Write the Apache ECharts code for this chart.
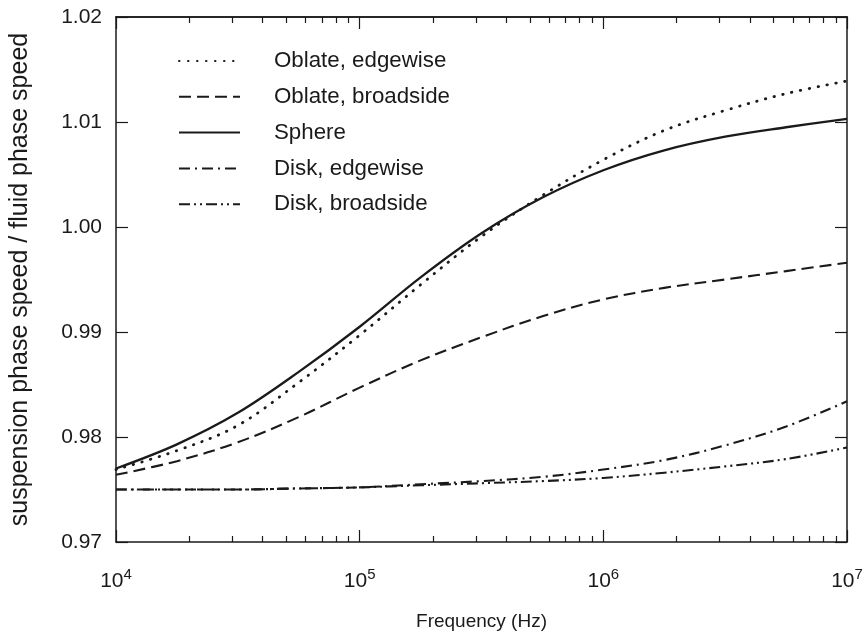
<!DOCTYPE html>
<html>
<head>
<meta charset="utf-8">
<title>Phase speed ratio vs frequency</title>
<script src="https://cdn.jsdelivr.net/npm/echarts@6/dist/echarts.min.js"></script>
<style>
  html, body { margin: 0; padding: 0; background: #ffffff; }
  #chart { width: 868px; height: 639px; }
</style>
</head>
<body>
<div id="chart"></div>
<script>
// Frequency samples, as decimal exponents (Hz = 10^exp)
const freqExp = [4.0, 4.25, 4.5, 4.75, 5.0, 5.25, 5.5, 5.75, 6.0, 6.25, 6.5, 6.75, 7.0];

// Ratio of suspension phase speed to fluid phase speed for each particle shape
const oblateEdgewise  = [0.9769, 0.9787, 0.9811, 0.9852, 0.9897, 0.9945, 0.9991, 1.0030, 1.0064, 1.0092, 1.0111, 1.0127, 1.0139];
const oblateBroadside = [0.9764, 0.9777, 0.9795, 0.9819, 0.9847, 0.9873, 0.9895, 0.9915, 0.9931, 0.9942, 0.9950, 0.9958, 0.9966];
const sphere          = [0.9770, 0.9793, 0.9823, 0.9862, 0.9905, 0.9952, 0.9994, 1.0028, 1.0054, 1.0073, 1.0086, 1.0095, 1.0103];
const diskEdgewise    = [0.9750, 0.9750, 0.9750, 0.9751, 0.9752, 0.9755, 0.9758, 0.9762, 0.9769, 0.9778, 0.9792, 0.9810, 0.9834];
const diskBroadside   = [0.9750, 0.9750, 0.9750, 0.9751, 0.9752, 0.9754, 0.9756, 0.9758, 0.9761, 0.9766, 0.9772, 0.9779, 0.9790];

const seriesNames = ['Oblate, edgewise', 'Oblate, broadside', 'Sphere', 'Disk, edgewise', 'Disk, broadside'];

// Axis decades and the in-between minor tick multipliers
const decadeExp = [4, 5, 6, 7];
const minorMult = [2, 3, 4, 5, 6, 7, 8, 9];

const INK = '#1a1a1a';
const FONT = 'Liberation Sans, Arial, Helvetica, sans-serif';

const freqHz = freqExp.map(e => Math.pow(10, e));
const pairs = vals => freqHz.map((f, i) => [f, vals[i]]);

// minor tick positions in exponent space (log10 of 2..9 x each decade)
const minorExp = [];
decadeExp.slice(0, -1).forEach(d => minorMult.forEach(m => minorExp.push(d + Math.log10(m))));

const dashStyles = [
  [0.5, 8.5],            // dotted (round caps turn the short dashes into dots)
  [12, 6],               // dashed
  'solid',
  [11, 5, 2, 5],         // dash-dot
  [11, 4, 2, 4, 2, 4]    // dash-dot-dot
];
const data = [oblateEdgewise, oblateBroadside, sphere, diskEdgewise, diskBroadside];

const grid = { left: 115, right: 21, top: 17, bottom: 97 };

// decoration axis (ticks only) in exponent space
function tickAxis(position, values, len) {
  return {
    type: 'value', position: position, min: 4, max: 7,
    axisLine: { show: position === 'top', lineStyle: { color: INK, width: 1.5 } },
    axisTick: { show: true, inside: true, length: len, customValues: values, lineStyle: { color: INK, width: 1.2 } },
    axisLabel: { show: false },
    splitLine: { show: false }
  };
}

const chart = echarts.init(document.getElementById('chart'), null, { renderer: 'canvas' });

chart.setOption({
  backgroundColor: '#ffffff',
  animation: false,
  grid: grid,
  legend: {
    orient: 'vertical',
    left: 173,
    top: 44,
    itemWidth: 61,
    itemHeight: 14,
    itemGap: 11.8,
    data: seriesNames,
    itemStyle: { color: 'transparent', borderWidth: 0, opacity: 0 },
    textStyle: { color: INK, fontSize: 22.3, fontFamily: FONT, lineHeight: 24, padding: [0, 0, 0, 29] }
  },
  xAxis: [
    {
      type: 'log', logBase: 10, min: 1e4, max: 1e7, position: 'bottom',
      name: 'Frequency (Hz)', nameLocation: 'middle', nameGap: 70,
      nameTextStyle: { color: INK, fontSize: 19, fontFamily: FONT },
      axisLine: { show: true, lineStyle: { color: INK, width: 1.5 } },
      axisTick: { show: true, inside: true, length: 12, lineStyle: { color: INK, width: 1.2 } },
      axisLabel: {
        margin: 25,
        formatter: v => '{b|10}{s|' + Math.round(Math.log10(v)) + '}',
        rich: {
          b: { fontSize: 21, fontFamily: FONT, color: INK },
          s: { fontSize: 15, fontFamily: FONT, color: INK, padding: [0, 0, 13, 0] }
        }
      },
      splitLine: { show: false }
    },
    tickAxis('bottom', minorExp, 6),
    tickAxis('top', decadeExp, 12),
    tickAxis('top', minorExp, 6)
  ],
  yAxis: [
    {
      type: 'value', position: 'left', min: 0.97, max: 1.02, interval: 0.01,
      name: 'suspension phase speed / fluid phase speed', nameLocation: 'middle', nameGap: 83,
      nameTextStyle: { color: INK, fontSize: 25, fontFamily: FONT },
      axisLine: { show: true, lineStyle: { color: INK, width: 1.5 } },
      axisTick: { show: true, inside: true, length: 12, lineStyle: { color: INK, width: 1.2 } },
      axisLabel: { margin: 14, color: INK, fontSize: 21, fontFamily: FONT, formatter: v => v.toFixed(2) },
      splitLine: { show: false }
    },
    {
      type: 'value', position: 'right', min: 0.97, max: 1.02, interval: 0.01,
      axisLine: { show: true, lineStyle: { color: INK, width: 1.5 } },
      axisTick: { show: true, inside: true, length: 12, lineStyle: { color: INK, width: 1.2 } },
      axisLabel: { show: false },
      splitLine: { show: false }
    }
  ],
  series: seriesNames.map((name, i) => ({
    name: name,
    type: 'line',
    xAxisIndex: 0,
    yAxisIndex: 0,
    data: pairs(data[i]),
    smooth: 0.35,
    symbol: 'none',
    showSymbol: false,
    color: INK,
    lineStyle: { color: INK, width: i === 0 ? 2.8 : (i === 2 ? 2.3 : 2.1), type: dashStyles[i], cap: i === 0 ? 'round' : 'butt' }
  }))
});
</script>
</body>
</html>
